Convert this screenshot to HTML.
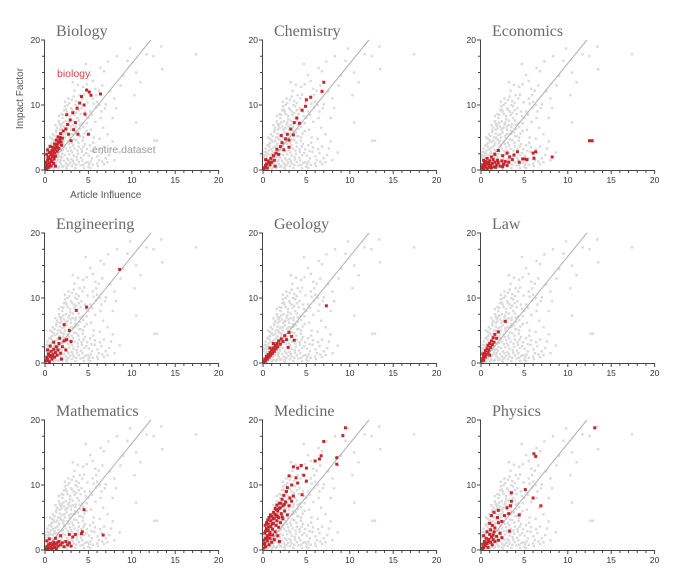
<!DOCTYPE html>
<html><head><meta charset="utf-8">
<style>
html,body{margin:0;padding:0;background:#fff;}
svg{display:block;}
text{font-family:"Liberation Sans","DejaVu Sans",sans-serif;}
.title{font-family:"Liberation Serif","DejaVu Serif",serif;font-size:16px;fill:#6a6a6a;}
.tick{font-size:8.5px;fill:#333;}
</style></head>
<body>
<svg id="chart" width="682" height="579" viewBox="0 0 682 579"></svg>
<script>
const disciplines=["Biology","Chemistry","Economics","Engineering","Geology","Law","Mathematics","Medicine","Physics"];
const xTicks=[0,5,10,15,20];
const yTicks=[0,10,20];
const allX=[0.1,0.2,0.3,0.4,0.2,0.5,0.4,0.1,0.3,0.5,0.6,0.7,0.8,0.6,0.9,0.7,1,0.8,0.9,1,0.6,0.9,1.1,1.2,1.3,1.1,1.4,1.2,1.5,1.3,1.4,1.1,1.5,1.2,1.5,1.4,1.6,1.7,1.8,1.9,1.6,1.8,2,1.7,1.9,1.6,2,1.8,2,1.7,1.9,1.6,2.1,2.2,2.3,2.4,2.1,2.3,2.5,2.2,2.4,2.1,2.5,2.3,2.2,2.4,2.5,2.3,2.6,2.7,2.8,2.9,2.6,2.8,3,2.7,2.9,2.6,3,2.8,2.7,3,2.9,3.1,3.2,3.3,3.4,3.1,3.3,3.5,3.2,3.4,3.1,3.5,3.3,3.4,3.2,3.6,3.7,3.8,3.9,3.6,3.8,4,3.7,3.9,3.6,4,3.8,4.1,4.3,4.5,4.2,4.6,4.4,4.8,4.3,4.7,4.2,4.9,4.5,4.8,4.7,4.9,4.4,5.1,5.4,5.7,5.2,5.6,5.3,5.8,5.4,5.9,5.5,5.8,5.5,5.2,6.2,6.5,6.8,6.3,6.7,6.4,6.9,6.5,6.2,6.8,6.4,6.6,7.3,7.5,7,8,7.8,7.8,8.6,8.3,9.5,9,8.7,10.3,10.5,10.5,12.5,13.4,13.5,12.6,12.9,17.4,11,9.8,7.2,11.7,8.2,5,6,7,4.5,3.5,2.5,5.5];
const allY=[0.3,0.8,1.5,2.2,2.8,0.5,1.1,1.9,3.3,3.8,0.3,1,1.8,2.5,3.2,4,4.6,0.6,2.3,1.3,5,5.5,0.4,1.1,2,2.9,3.6,4.3,5,5.8,6.5,0.9,1.6,6.9,2.6,4.5,0.5,1.2,2.1,3,3.9,4.7,5.4,6.2,7,7.5,8,1.5,2.5,5.6,6.4,8.3,0.6,1.4,2.3,3.3,4.1,5,5.8,6.7,7.5,8.5,9,9.8,3.7,1,6.4,10.5,0.7,1.5,2.4,3.5,4.4,5.3,6.2,7,7.8,8.6,9.5,10.3,11,3,1.1,0.6,1.4,2.2,3.3,4.2,5.5,6.6,7.6,8.5,9.3,10,11.3,12.2,13.5,0.8,1.6,2.5,3.6,4.6,5.8,7,8,9.2,10.6,11.5,13.1,0.7,1.5,2.3,3.2,4,5,6,7.2,8.3,9.5,10.4,11.6,13.2,16.3,1.2,12.8,0.9,1.8,2.8,3.8,5,6.2,7.4,8.5,9.6,11,12.5,13.7,14.6,1.5,2.6,3.6,4.8,6.5,8,9.5,9,12.2,15.2,15.7,13,16.7,12.1,10.1,11,8,4.4,2.7,17.5,16.8,14.5,13,11.5,7.3,15,17.5,19,15.5,4.5,4.5,17.8,13.5,18.7,5.5,17.8,9.5,0.5,1,1.8,0.3,0.3,0.2,0.8];
const moreDatasetPairs=[0.25,0.6,0.35,1.2,0.45,1.8,0.55,2.4,0.65,3,0.15,2.3,0.75,3.6,0.85,4.2,0.95,1.6,1.05,2.5,1.15,3.4,1.25,0.5,1.35,1.3,1.45,2.2,1.55,3.1,1.65,4.1,1.75,5,1.85,0.9,1.95,1.9,2.05,3.1,2.15,4.5,2.25,5.5,2.35,6.2,2.45,0.4,2.55,1.8,2.65,2.9,2.75,4,2.85,4.9,2.95,6.7,3.05,1.7,3.15,2.7,3.25,3.8,3.35,4.7,3.45,6,3.55,7,3.65,2,3.75,3,3.85,4.2,3.95,5.2,4.05,6.3,4.15,1.9,4.25,2.8,4.35,4.5,4.45,3.6,4.55,5.6,4.65,1.1,4.75,2.6,4.85,3.2,5.05,2.2,5.25,1.3,5.35,2.9,5.55,4.2,5.75,3.5,6.05,2.1,6.35,3.2,6.6,1.3,7.4,2.3,7.6,3.3,8,1.5,2.1,7.3,2.4,9.3,2.6,10,2.9,8.3,3.1,10.8,3.3,9,3.6,8.8,3.7,9.8,3.9,10.3,4.1,8.6,4.3,11,4.6,9,4.8,7.2,5,8,5.2,9,5.6,10.2,5.9,11.5,6,10.5,6.3,10,1.7,7.1,1.9,8.6,2.2,9.2,1.3,6.1,1.1,5.2,0.8,4.8,0.4,2.7,1.8,6.8,2.6,6.5,2.8,7.3,3.2,6.9,3.9,7.6,4.4,6.6,4.1,5.2,3.5,5.6,3.0,5.5,2.3,3.8,2.0,4.6,1.6,2.0,1.2,2.6,0.9,0.9,0.5,0.2,1.0,0.2,1.5,0.3,2.0,0.5,2.7,0.8,3.3,1.0,3.9,1.2,4.4,0.8,5.2,0.3,6.1,0.6,6.8,0.9,7.2,1.2];
const subsetPairs=[
[0.1,0.3,0.2,0.9,0.3,1.5,0.1,1.2,0.4,0.4,0.4,2,0.5,1.1,0.5,2.7,0.6,1.7,0.7,0.6,0.7,2.3,0.8,3,0.8,1.3,0.9,2,0.9,3.5,1,2.7,1,1,1.1,3.2,1.1,4,1.2,2.1,1.3,3.6,1.3,4.6,1.4,2.9,1.5,4.1,1.5,5.1,1.6,3.3,1.7,4.6,1.8,5.6,1.9,3.8,2,4.9,2.1,6,0.2,2.4,0.3,3.1,0.6,3.6,0.2,0.1,1.2,0.6,2.4,6.3,2.6,7,2.9,7.7,2.5,8.5,3.2,8.8,3.5,7.3,3.7,9.5,4,10.3,4.5,10,4.2,11.3,4.8,12.3,5.1,12,5.3,11.5,6.4,11.7,4.6,8.6,3.3,6.2,3.8,5.5,5,5.5,2.7,5.5,3,4.5,0.15,0.6,0.35,1.9,0.55,0.8,0.65,2.6,0.75,1.4,0.85,2.2,0.95,3,1.05,1.7,1.15,2.6,1.25,3.4,1.35,3.9,1.45,3.5,1.6,4.3,1.75,5,1.85,4.3],
[0.2,0.4,0.4,0.9,0.5,0.3,0.6,1.4,0.8,0.8,0.9,1.8,1,1.2,1.2,2.2,1.3,1.5,1.5,2.6,1.6,3.2,1.8,2.4,2,3.6,2.2,4.2,2.4,3.1,2.6,4.8,2.8,5.5,3,4.6,3.2,6.3,3.5,5.4,3.6,7.3,3.9,8,4.2,7.2,4.5,9.2,4.9,9.8,5,10.8,5.5,11.2,6.8,12.1,7,13.5,3,3.5,2.1,5.3,0.3,1.6,1.4,0.6,0.1,0.2,0.3,0.7,0.7,1.1],
[0.1,0.3,0.2,0.8,0.3,0.2,0.4,1.1,0.5,0.5,0.6,1.3,0.7,0.2,0.8,0.9,0.9,0.4,1,1.4,1.1,0.7,1.2,0.3,1.3,1,1.4,1.6,1.5,0.5,1.6,1.2,1.8,0.8,2,1.1,2.2,0.6,2.4,1.4,2.6,0.9,2.8,1.3,3,0.7,3.2,1.2,0.3,1.5,0.7,1.8,1.2,2,1.6,2.4,2,3,2.5,2.2,3,2.6,3.3,2,3.8,2.3,4.2,2.8,4.8,1.7,5,1.7,5.3,1.6,6,2.6,6.3,2.8,6.1,1.8,8.2,2,12.5,4.5,12.8,4.5,4.4,1.2,3.6,1.6,0.2,0.5,0.5,0.9,1,0.6,1.7,0.4,2.5,0.5,0.9,1.1,1.9,1.5],
[0.1,0.3,0.2,0.9,0.3,0.5,0.4,1.4,0.5,0.2,0.6,1,0.7,1.8,0.8,0.6,0.9,1.3,1,2.1,1.1,0.9,1.2,1.6,1.3,2.5,1.4,1.2,1.5,2,1.6,3,1.8,1.5,2,2.5,2.2,3.4,2.4,2,0.3,2,0.6,2.6,1,3.2,1.7,3.8,2.5,3.6,3,3.3,2.2,5.9,2.8,5,3.6,8.1,4.8,8.6,8.6,14.4,1.9,0.6,0.2,0.4,0.5,1.2,0.8,1.1],
[0.1,0.2,0.2,0.6,0.3,0.3,0.4,1,0.5,0.6,0.6,1.3,0.7,0.9,0.8,1.6,0.9,1.2,1,2,1.1,1.5,1.2,2.3,1.3,1.8,1.4,2.7,1.5,2.2,1.6,3,1.7,2.5,1.8,3.4,2,2.9,2.1,3.7,2.3,3.3,2.5,4.2,2.7,3.6,3,4.7,3.3,4.1,3.6,3.5,1.2,3,0.8,2.3,7.3,8.8,2.9,2.4],
[0.1,0.3,0.2,0.7,0.3,1.1,0.3,0.4,0.4,1.5,0.5,0.9,0.5,1.9,0.6,1.3,0.7,2.2,0.8,1.6,0.8,2.7,0.9,2,1,3,1.1,2.4,1.2,3.4,1.3,2.8,1.4,3.9,1.5,3.2,1.6,4.4,1.8,3.8,2,4.8,0.2,1.4,2.8,6.4,1,1.2],
[0.1,0.2,0.2,0.5,0.3,0.1,0.4,0.8,0.5,0.3,0.6,1,0.7,0.5,0.8,0.2,0.9,0.8,1,1.2,1.1,0.4,1.2,0.9,1.3,0.2,1.4,1.1,1.5,0.6,1.6,1.3,1.8,0.8,2,1.1,2.2,0.5,2.4,1.3,2.6,0.8,2.8,1.1,3,0.6,0.5,1.7,1.2,1.8,1.8,2.2,2.8,2.4,3.2,2,3.5,2.4,4.2,2.5,4.3,2.8,4.5,6.2,6.7,2.3,0.2,1.4],
[0.1,0.3,0.2,1,0.3,1.8,0.2,2.6,0.4,3.3,0.3,0.5,0.5,1.4,0.5,2.2,0.6,3,0.6,4,0.7,0.8,0.8,1.8,0.8,2.7,0.9,3.6,0.9,4.5,1,1.2,1,5.2,1.1,2.3,1.1,3.2,1.2,4.1,1.2,5.8,1.3,1.6,1.3,4.9,1.4,2.8,1.4,6.4,1.5,3.8,1.5,5.4,1.6,4.5,1.6,6.9,1.7,2.2,1.7,6,1.8,3.5,1.8,5,1.9,7.2,2,4.2,2,6.5,2.1,5.6,2.2,7.8,2.3,4.8,2.3,6.8,2.4,8.4,2.5,6,2.6,7.4,2.7,9,2.8,5.4,3,6.8,3.1,8,3.3,7.5,0.1,1.5,0.4,4.2,0.7,5,0.3,2.9,1.9,1.3,2.8,9.6,3.3,10,4,10.3,3.5,8.3,4.5,8.5,5,10.6,3.5,12.8,4,12.6,4.4,13,5,12.6,6,13.7,6.5,14,6.7,14.5,7,16.7,8.5,14.2,8.5,13.2,9.2,17.6,9.5,18.8,3.8,11.1,4.7,11.5,3,11.4,0.15,0.9,0.45,1.8,0.75,2.3,0.65,3.5,1.05,4,1.15,4.8,1.35,5.5,1.55,6.2,1.65,5.2,1.85,6.4,2.05,7.2,2.2,5.1,2.45,7,0.25,3.8,0.55,4.6,0.85,5.4],
[0.1,0.3,0.2,0.9,0.3,0.4,0.4,1.3,0.5,0.7,0.6,1.8,0.7,1,0.8,0.4,0.9,1.6,1,2.4,1.1,1.2,1.2,2,1.3,0.8,1.4,1.6,1.5,2.8,1.6,1.3,1.8,2.1,2,1.5,2.2,2.6,2.4,1.9,0.3,2.2,0.7,2.8,1.1,3.1,1.3,3.8,1.6,3.4,2,4.2,2.4,4.4,1,4.1,2.7,5.3,1.5,5.8,2,6.1,1.2,5.3,3,6.5,1.9,5,3.4,6.8,3.2,5.6,3.5,7.5,3.5,8.8,4.4,5.4,3.3,2.9,5.1,9.3,6,8,6.9,6.8,6.1,14.8,6.3,14.4,13.1,18.8,0.2,0.2,0.5,1.1,0.8,1.3,1.4,2.3]
];
const trendEnd=[12.2,20];

const svg=document.getElementById('chart');
const NS='http://www.w3.org/2000/svg';
function mk(tag,attrs,parent){const e=document.createElementNS(NS,tag);for(const k in attrs)e.setAttribute(k,attrs[k]);parent.appendChild(e);return e;}
const colX=[45,263,481];
const rowY0=[170,363,550];
const W=173.6, H=130;
const dsX=allX.slice(), dsY=allY.slice();
for(let k=0;k<moreDatasetPairs.length;k+=2){dsX.push(moreDatasetPairs[k]);dsY.push(moreDatasetPairs[k+1]);}
disciplines.forEach((name,i)=>{
  const ox=colX[i%3], oy=rowY0[Math.floor(i/3)];
  const sx=v=>ox+v/20*W, sy=v=>oy-v/20*H;
  const g=mk('g',{},svg);
  
  
  const t=mk('text',{x:ox+11,y:oy-134,class:'title'},g);t.textContent=name;
  
  
  const gg=mk('g',{fill:'#dadada'},g);
  
  
  for(let k=0;k<dsX.length;k++){
    const p=mk('rect',{x:sx(dsX[k])-1.2,y:sy(dsY[k])-1.2,width:2.4,height:2.4},gg);
    
    
  }
  const ln=mk('line',{x1:sx(0),y1:sy(0),x2:sx(trendEnd[0]),y2:sy(trendEnd[1]),stroke:'#b0b0b0','stroke-width':1},g);
  
  
  const rg=mk('g',{fill:'#c4262b'},g);
  
  
  const d=subsetPairs[i];
  for(let k=0;k<d.length;k+=2){
    const p=mk('rect',{x:sx(d[k])-1.5,y:sy(d[k+1])-1.5,width:3,height:3},rg);
    
    
  }
  const ax=mk('g',{stroke:'#444','stroke-width':1,fill:'none'},g);
  
  
  mk('line',{x1:ox,y1:oy+0.5,x2:ox+W,y2:oy+0.5},ax);
  mk('line',{x1:ox-0.5,y1:oy,x2:ox-0.5,y2:oy-H},ax);
  for(let v=0;v<=20;v++) mk('line',{x1:sx(v),y1:oy,x2:sx(v),y2:oy+(v%5===0?4:3)},ax);
  for(let v=0;v<=20;v+=2.5) mk('line',{x1:ox,y1:sy(v),x2:ox-(v%10===0?4:3),y2:sy(v)},ax);
  xTicks.forEach(v=>{const tt=mk('text',{x:sx(v),y:oy+13,class:'tick','text-anchor':'middle'},g);tt.textContent=v;
    
    });
  yTicks.forEach(v=>{const tt=mk('text',{x:ox-5,y:sy(v)+3,class:'tick','text-anchor':'end'},g);tt.textContent=v;
    
    });
  if(i===0){
    const xt=mk('text',{x:ox+W*0.35,y:oy+28,'font-size':'10px',fill:'#555','text-anchor':'middle'},g);xt.textContent='Article Influence';
    
    
    const yt=mk('text',{x:0,y:0,'font-size':'10px',fill:'#555','text-anchor':'middle',transform:'translate(23,'+(oy-H*0.55)+') rotate(-90)'},g);yt.textContent='Impact Factor';
    
    
    const a1=mk('text',{x:57,y:77,'font-size':'10.5px',fill:'#d0454a'},g);a1.textContent='biology';
    
    
    const a2=mk('text',{x:92,y:153,'font-size':'10.5px',fill:'#9a9a9a'},g);a2.textContent='entire dataset';
    
    
  }
});
</script>
</body></html>
